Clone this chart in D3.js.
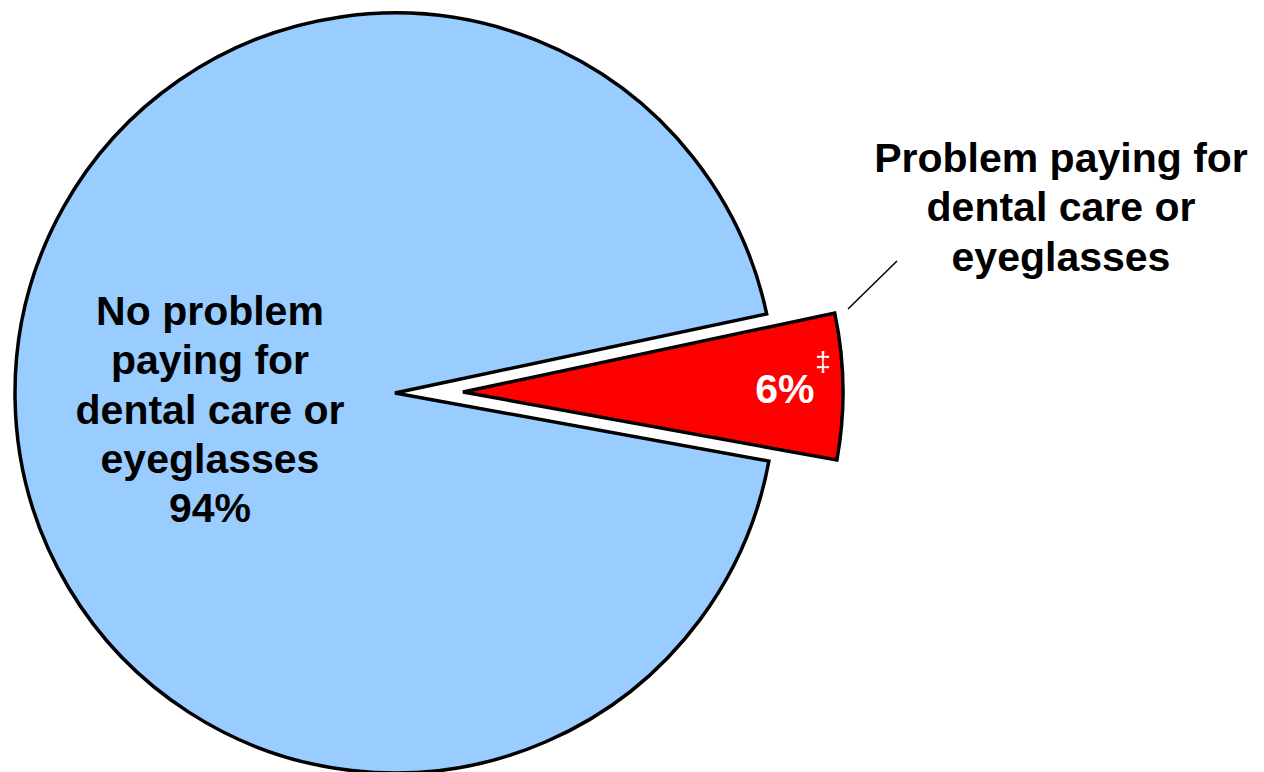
<!DOCTYPE html>
<html>
<head>
<meta charset="utf-8">
<script src="https://cdn.jsdelivr.net/npm/d3@7"></script>
<style>
  body { margin: 0; background: #fff; }
  svg { display: block; }
  text { font-family: "Liberation Sans", Arial, sans-serif; font-weight: bold; }
</style>
</head>
<body>
<svg width="1264" height="772"></svg>
<script>
// data
var categories = ["Problem paying for dental care or eyeglasses", "No problem paying for dental care or eyeglasses"];
var values = [6.2, 93.8];
var colors = ["#ff0000", "#99ccff"];
var valueLabels = ["6%", "94%"];
var problemLines = ["Problem paying for", "dental care or", "eyeglasses"];
var noProblemLines = ["No problem", "paying for", "dental care or", "eyeglasses", "94%"];

var svg = d3.select("svg");
var cx = 395, cy = 393, radius = 380, explode = 68;

var startDeg = 78;
var pie = d3.pie()
    .sort(null)
    .value(function (d) { return d; })
    .startAngle(startDeg * Math.PI / 180)
    .endAngle(startDeg * Math.PI / 180 + 2 * Math.PI);

var arcs = pie(values);
var arc = d3.arc().innerRadius(0).outerRadius(radius);
var labelArc = d3.arc().innerRadius(322).outerRadius(322);

var g = svg.append("g")
    .attr("transform", "translate(" + cx + "," + cy + ")");

function offset(d, i) {
    if (i !== 0) return [0, 0];
    var mid = (d.startAngle + d.endAngle) / 2;
    return [explode * Math.sin(mid), -explode * Math.cos(mid)];
}

var slices = g.selectAll("g.slice")
    .data(arcs)
    .enter()
    .append("g")
    .attr("class", "slice")
    .attr("transform", function (d, i) {
        var o = offset(d, i);
        return "translate(" + o[0] + "," + o[1] + ")";
    });

slices.append("path")
    .attr("d", arc)
    .attr("fill", function (d, i) { return colors[i]; })
    .attr("stroke", "#000")
    .attr("stroke-width", 3.5)
    .attr("stroke-linejoin", "miter");

// 6% label inside the red slice
var red = slices.filter(function (d, i) { return i === 0; });
var c = labelArc.centroid(arcs[0]);
red.append("text")
    .attr("x", c[0])
    .attr("y", c[1] + 16)
    .attr("text-anchor", "middle")
    .attr("fill", "#fff")
    .style("font-size", "41px")
    .text(valueLabels[0]);
red.append("text")
    .attr("x", c[0] + 38)
    .attr("y", c[1] - 16)
    .attr("text-anchor", "middle")
    .attr("fill", "#fff")
    .style("font-size", "28px")
    .style("font-weight", "normal")
    .text("\u2021");

// label for the blue slice
svg.append("text")
    .attr("text-anchor", "middle")
    .style("font-size", "41px")
    .attr("fill", "#000")
    .selectAll("tspan")
    .data(noProblemLines)
    .enter()
    .append("tspan")
    .attr("x", 210)
    .attr("y", function (d, i) { return 325 + i * 49.3; })
    .text(function (d) { return d; });

// outside label for the red slice
svg.append("text")
    .attr("text-anchor", "middle")
    .style("font-size", "41px")
    .attr("fill", "#000")
    .selectAll("tspan")
    .data(problemLines)
    .enter()
    .append("tspan")
    .attr("x", 1061)
    .attr("y", function (d, i) { return 172 + i * 49.3; })
    .text(function (d) { return d; });

// leader line
svg.append("line")
    .attr("x1", 848).attr("y1", 309)
    .attr("x2", 897).attr("y2", 261)
    .attr("stroke", "#000")
    .attr("stroke-width", 1.5);
</script>
</body>
</html>
